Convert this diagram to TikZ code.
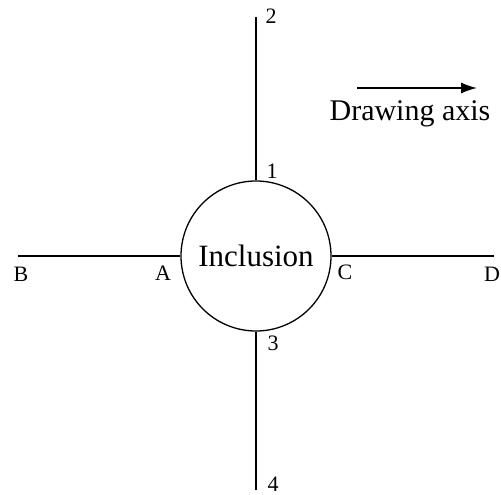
\documentclass[tikz,border=0pt]{standalone}
\usepackage{fontspec}
\setmainfont{Liberation Serif}
\usetikzlibrary{arrows.meta}
\tikzset{
  wire/.style={line width=1.3pt, black},
  lbl/.style={inner sep=0pt, anchor=base, font=\fontsize{22}{22}\selectfont},
  big/.style={inner sep=0pt, anchor=base, font=\fontsize{30}{30}\selectfont}
}
\begin{document}
\begin{tikzpicture}[x=1pt,y=-1pt]
\useasboundingbox (0,0) rectangle (501,495);
\node[circle, draw, wire, minimum size=150pt, inner sep=0pt, font=\fontsize{31}{31}\selectfont] (inc) at (256,256) {Inclusion};
\coordinate (top) at (256,17);
\coordinate (bot) at (256,490);
\coordinate (lft) at (18,256);
\coordinate (rgt) at (494,256);
\draw[wire] (top) -- (inc.north);
\draw[wire] (inc.south) -- (bot);
\draw[wire] (lft) -- (inc.west);
\draw[wire] (inc.east) -- (rgt);
\node[lbl] (n2) at (271,24) {2};
\node[lbl] (n1) at (272,178) {1};
\node[lbl] (n3) at (273,350) {3};
\node[lbl] (n4) at (273,491) {4};
\node[lbl] (nB) at (21,281) {B};
\node[lbl] (nA) at (163,280) {A};
\node[lbl] (nC) at (345,279) {C};
\node[lbl] (nD) at (492,281) {D};
\coordinate (a1) at (357,88);
\coordinate (a2) at (477,88);
\draw[wire, -{Latex[length=16pt,width=11pt]}] (a1) -- (a2);
\node[big] (axis) at (410,121) {Drawing axis};
\end{tikzpicture}
\end{document}
